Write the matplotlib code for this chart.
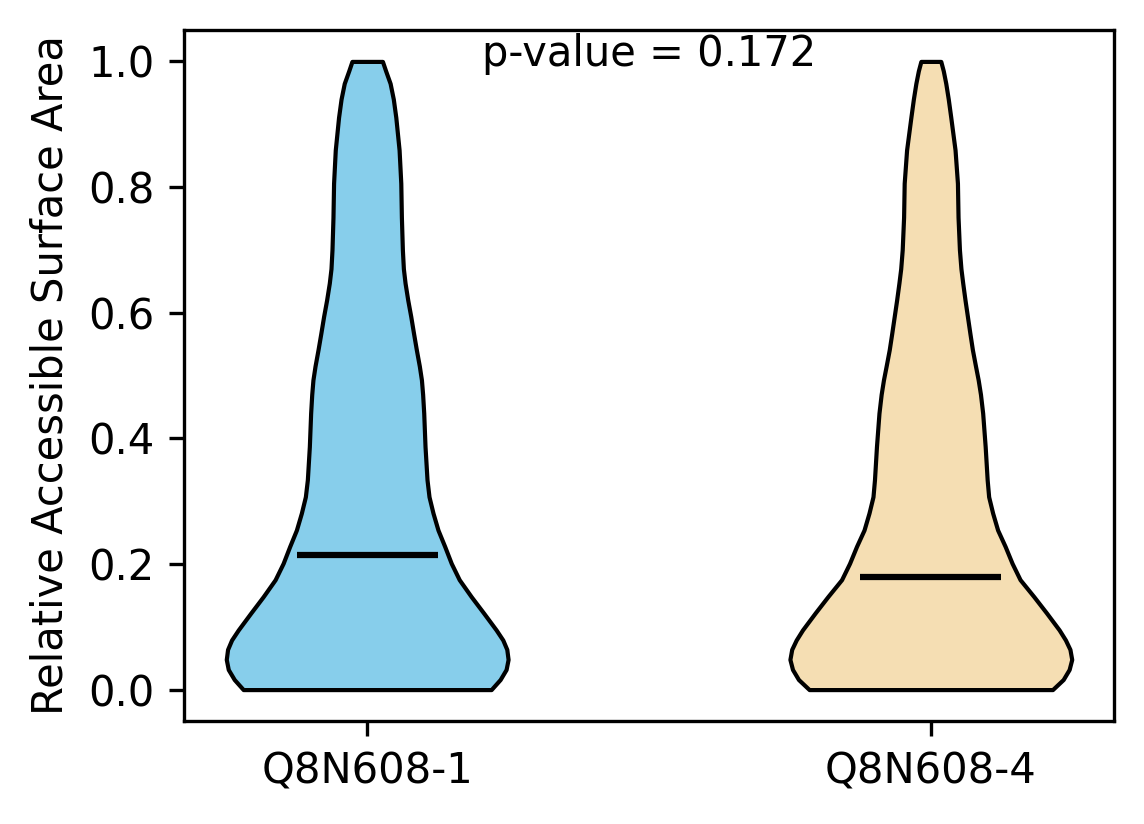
import matplotlib
matplotlib.use("Agg")
import matplotlib.pyplot as plt
import numpy as np

# Categories
groups = ["Q8N608-1", "Q8N608-4"]
colors = ["skyblue", "wheat"]

# Density profile (RSA value grid, relative density)
rsa_grid = [0.0, 0.016, 0.032, 0.048, 0.064, 0.079, 0.095, 0.122, 0.148, 0.175,
            0.201, 0.228, 0.254, 0.281, 0.307, 0.334, 0.387, 0.440, 0.470, 0.493,
            0.515, 0.541, 0.567, 0.594, 0.620, 0.647, 0.670, 0.700, 0.752, 0.806,
            0.859, 0.911, 0.940, 0.965, 0.985, 1.0]
density_1 = [124.3, 133.3, 139.3, 141.3, 140, 136, 129.3, 116.7, 104.3, 92.3,
             84.3, 77.7, 71, 66, 62, 60, 58, 56.7, 55.6, 54.4,
             52.3, 49.3, 46.5, 43.7, 40.7, 38, 36.3, 35.3, 34.3, 33.7,
             32, 28.7, 26.2, 23, 18.5, 15.3]
density_4 = [122, 132.7, 138.7, 141.3, 139.5, 135, 128.7, 116, 103.3, 89.5,
             81.5, 74.5, 67, 62, 58, 56.5, 54.5, 52, 49.8, 47.5,
             44.8, 41.7, 39.2, 36.7, 34.3, 32, 30.2, 28.7, 27.3, 26.7,
             24.3, 20, 17.5, 15, 12.5, 10]
medians = [0.2135, 0.180]
p_value = 0.172

stats = []
for dens, med in zip([density_1, density_4], medians):
    stats.append(dict(coords=np.array(rsa_grid), vals=np.array(dens, dtype=float),
                      mean=med, median=med, min=min(rsa_grid), max=max(rsa_grid)))

fig = plt.figure(figsize=(1144 / 300, 824 / 300), dpi=300)
ax = fig.add_axes([184 / 1144, 1 - 721 / 824, (1114 - 184) / 1144, (721 - 30) / 824])

parts = ax.violin(stats, positions=[1, 2], widths=0.5, showmeans=False,
                  showextrema=False, showmedians=True)
for body, c in zip(parts["bodies"], colors):
    body.set_facecolor(c)
    body.set_edgecolor("black")
    body.set_alpha(1)
    body.set_linewidth(1)
    body.set_joinstyle("round")
parts["cmedians"].set_color("black")
parts["cmedians"].set_linewidth(1.5)

ax.set_xticks([1, 2])
ax.set_xticklabels(groups)
ax.set_ylabel("Relative Accessible Surface Area")
ax.text(1.5, 0.9925, f"p-value = {p_value}", ha="center", va="baseline")

fig.savefig("out.png", dpi=300)
